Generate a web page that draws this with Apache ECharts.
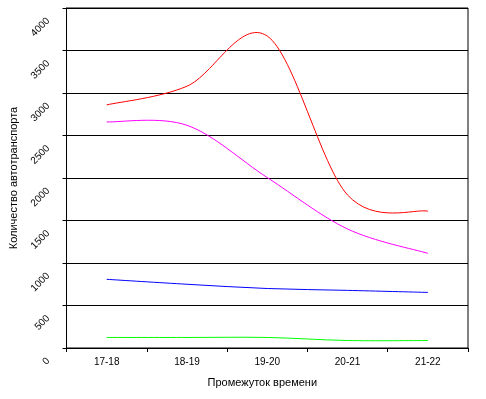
<!DOCTYPE html>
<html>
<head>
<meta charset="utf-8">
<script src="https://cdn.jsdelivr.net/npm/echarts@6/dist/echarts.min.js"></script>
<style>html,body{margin:0;padding:0;background:#fff;}#c{width:486px;height:399px;}</style>
</head>
<body>
<div id="c"></div>
<script>
var categories = ['17-18', '18-19', '19-20', '20-21', '21-22'];
var redSeries = [2860, 3080, 3670, 1800, 1610];
var magentaSeries = [2660, 2620, 2005, 1400, 1114];
var blueSeries = [808, 750, 700, 678, 654];
var greenSeries = [124, 124, 124, 88, 88];
var yTicks = [0, 500, 1000, 1500, 2000, 2500, 3000, 3500, 4000];

var font = 'Liberation Sans, Arial, sans-serif';

// Smoothed line (Excel-style Catmull-Rom) drawn through the axis scales via api.coord
function smoothLine(values, color) {
  var n = values.length;
  return {
    type: 'custom',
    data: values.map(function (v, i) { return [i, v]; }),
    encode: { x: 0, y: 1 },
    clip: false,
    animation: false,
    renderItem: function (params, api) {
      var i = params.dataIndex;
      if (i >= n - 1) return null;
      var c = function (k) {
        k = Math.max(0, Math.min(n - 1, k));
        return api.coord([k, values[k]]);
      };
      var p0 = c(i - 1), p1 = c(i), p2 = c(i + 1), p3 = c(i + 2);
      return {
        type: 'bezierCurve',
        shape: {
          x1: p1[0], y1: p1[1],
          cpx1: p1[0] + (p2[0] - p0[0]) / 6, cpy1: p1[1] + (p2[1] - p0[1]) / 6,
          cpx2: p2[0] - (p3[0] - p1[0]) / 6, cpy2: p2[1] - (p3[1] - p1[1]) / 6,
          x2: p2[0], y2: p2[1]
        },
        style: { stroke: color, fill: null, lineWidth: 1 }
      };
    }
  };
}

var chart = echarts.init(document.getElementById('c'), null, { renderer: 'canvas' });
chart.setOption({
  animation: false,
  grid: { left: 62, right: 18, top: 8, bottom: 51, show: true, borderColor: '#000', borderWidth: 1, backgroundColor: 'transparent' },
  xAxis: {
    type: 'category', data: categories, boundaryGap: true,
    name: 'Промежуток времени', nameLocation: 'middle', nameGap: 29,
    nameTextStyle: { fontFamily: font, fontSize: 11, color: '#000', padding: [0, 10, 0, 0] },
    axisLine: { lineStyle: { color: '#000', width: 1 } },
    axisTick: { show: true, length: 4, lineStyle: { color: '#000' } },
    axisLabel: { fontFamily: font, fontSize: 10, color: '#000', margin: 9 },
    splitLine: { show: false }
  },
  yAxis: {
    type: 'value', min: 0, max: 4000, interval: 500,
    name: 'Количество автотранспорта', nameLocation: 'middle', nameGap: 39,
    nameTextStyle: { fontFamily: font, fontSize: 11, color: '#000' },
    axisLine: { show: true, lineStyle: { color: '#000', width: 1 } },
    axisTick: { show: true, length: 4, lineStyle: { color: '#000' } },
    axisLabel: {
      fontFamily: font, fontSize: 10, color: '#000', rotate: 45, margin: 14,
      align: 'right', verticalAlign: 'top', padding: [0, 11, 0, 0],
      formatter: function (v) { return yTicks.indexOf(v) >= 0 ? String(v) : ''; }
    },
    splitLine: { show: true, lineStyle: { color: '#000', width: 1 } }
  },
  series: [
    smoothLine(redSeries, '#ff0000'),
    smoothLine(magentaSeries, '#ff00ff'),
    smoothLine(blueSeries, '#0000ff'),
    smoothLine(greenSeries, '#00ff00')
  ]
});
</script>
</body>
</html>
